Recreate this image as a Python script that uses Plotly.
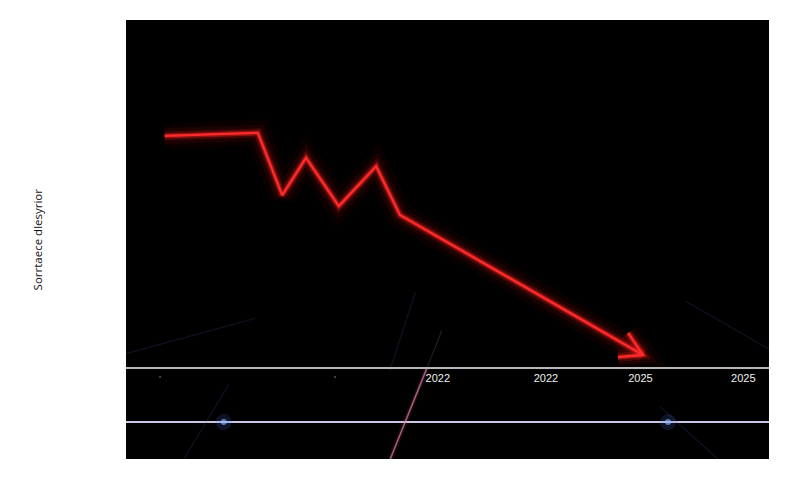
import plotly.graph_objects as go

# Main trend line (x in years, y in arbitrary units)
trend_x = [2016.6, 2018.05, 2018.43, 2018.8, 2019.31, 2019.89, 2020.26, 2024.04]
trend_y = [73.6, 74.3, 60.1, 68.6, 57.6, 66.7, 55.6, 23.7]

# Open arrowhead arms at the end of the trend
arrow_arm_x = [2023.81, 2024.04, 2023.65]
arrow_arm_y = [28.7, 23.7, 23.2]

# Axis ticks (duplicated labels as in the source)
tick_vals = [2016.53, 2019.25, 2020.85, 2022.53, 2024.0, 2025.6]
tick_text = ["", "", "2022", "2022", "2025", "2025"]

# Baseline positions
axis_y = 20.7
floor_y = 8.4

# Faint perspective grid segments in the background
grid_x = [[2016.0, 2018.0], [2016.9, 2017.6], [2020.5, 2020.1], [2024.7, 2026.0], [2024.3, 2025.2]]
grid_y = [[24.0, 32.0], [0.0, 17.0], [38.0, 20.0], [36.0, 25.0], [12.0, 0.0]]

# Pink light streak (lower bright part, upper faint part)
streak_lo_x = [2020.11, 2020.68]
streak_lo_y = [0.0, 20.7]
streak_hi_x = [2020.68, 2020.91]
streak_hi_y = [20.7, 29.2]

# Small blue glints on the floor line
glint_x = [2017.52, 2024.43]
glint_y = [floor_y, floor_y]

fig = go.Figure()

for gx, gy in zip(grid_x, grid_y):
    fig.add_trace(go.Scatter(
        x=gx, y=gy, mode="lines",
        line=dict(color="rgba(70,90,160,0.22)", width=1.2),
        hoverinfo="skip", showlegend=False,
    ))

# streak with glow
for w, c in [(5, "rgba(220,90,140,0.12)"), (1.5, "rgba(225,130,175,0.7)")]:
    fig.add_trace(go.Scatter(
        x=streak_lo_x, y=streak_lo_y, mode="lines",
        line=dict(color=c, width=w),
        hoverinfo="skip", showlegend=False,
    ))
fig.add_trace(go.Scatter(
    x=streak_hi_x, y=streak_hi_y, mode="lines",
    line=dict(color="rgba(150,110,170,0.25)", width=1.2),
    hoverinfo="skip", showlegend=False,
))

# floor line
fig.add_hline(y=floor_y, line_color="#c9c6e6", line_width=2, layer="below")

for s, c in [(16, "rgba(70,110,220,0.18)"), (6, "rgba(150,185,255,0.6)")]:
    fig.add_trace(go.Scatter(
        x=glint_x, y=glint_y, mode="markers",
        marker=dict(size=s, color=c, line=dict(width=0)),
        hoverinfo="skip", showlegend=False,
    ))

# red glow: stacked widths
glow = [
    (26, "rgba(255,0,0,0.04)"),
    (16, "rgba(255,20,20,0.08)"),
    (9, "rgba(255,30,30,0.18)"),
    (5, "rgba(255,40,40,0.40)"),
    (2.3, "#ff2b2b"),
]
for w, c in glow:
    for xs, ys in [(trend_x, trend_y), (arrow_arm_x, arrow_arm_y)]:
        fig.add_trace(go.Scatter(
            x=xs, y=ys, mode="lines",
            line=dict(color=c, width=w),
            hoverinfo="skip", showlegend=False,
        ))

fig.update_layout(
    width=800,
    height=480,
    margin=dict(l=118, r=39, t=12, b=29),
    paper_bgcolor="white",
    plot_bgcolor="black",
    showlegend=False,
    font=dict(family="Liberation Sans, Arial, sans-serif", size=11, color="white"),
    annotations=[
        dict(
            text="Sorrtaece dlesyrior",
            xref="paper", yref="paper",
            x=-0.137, y=0.50,
            xanchor="center", yanchor="middle",
            textangle=-90, showarrow=False,
            font=dict(size=11.5, color="#111111", family="Open Sans, sans-serif"),
        )
    ],
)

fig.update_xaxes(
    range=[2016.0, 2026.0],
    showgrid=False,
    zeroline=False,
    ticks="",
    showline=False,
)
fig.update_yaxes(
    range=[0, 100],
    showgrid=False,
    zeroline=False,
    showticklabels=False,
    ticks="",
)

# x axis line floats inside the plot; put tick labels there via a second axis
fig.update_layout(
    xaxis=dict(showticklabels=False),
    xaxis2=dict(
        overlaying="x",
        matches="x",
        anchor="free",
        position=axis_y / 100,
        side="bottom",
        tickvals=tick_vals,
        ticktext=tick_text,
        showgrid=False,
        zeroline=False,
        showline=True,
        linecolor="#b8b8b8",
        linewidth=1.5,
        ticks="",
        tickfont=dict(color="#f0f0f0", size=11),
    ),
)
fig.add_trace(go.Scatter(
    x=[tick_vals[0], tick_vals[1]], y=[axis_y - 2.0, axis_y - 2.0],
    xaxis="x2", mode="markers",
    marker=dict(size=2, color="rgba(120,120,120,0.7)"),
    hoverinfo="skip", showlegend=False,
))

fig.write_html("out.html")
